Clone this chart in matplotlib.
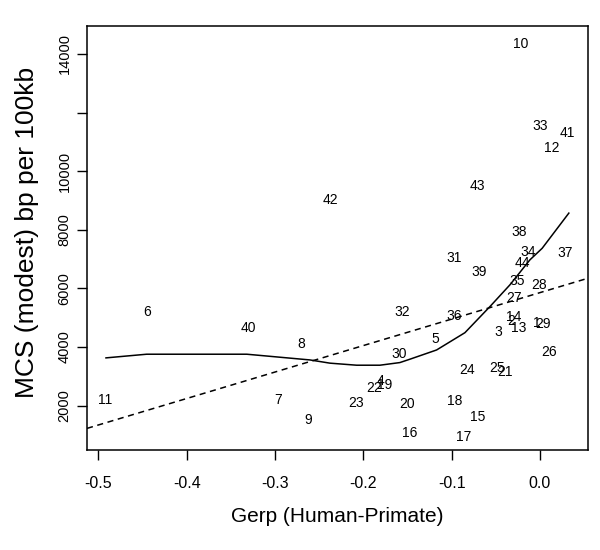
import numpy as np
import matplotlib
matplotlib.use('Agg')
import matplotlib.pyplot as plt

plt.rcParams['font.family'] = ['Liberation Sans', 'DejaVu Sans']

# 数据：每个点的编号与坐标
labels = ['1', '2', '3', '4', '5', '6', '7', '8', '9', '10',
          '11', '12', '13', '14', '15', '16', '17', '18', '19', '20',
          '21', '22', '23', '24', '25', '26', '27', '28', '29', '30',
          '31', '32', '33', '34', '35', '36', '37', '38', '39', '40',
          '41', '42', '43', '44']
gerp = [-0.004, -0.033, -0.047, -0.180, -0.119, -0.445, -0.296, -0.270, -0.263, -0.022,
        -0.492, 0.014, -0.024, -0.030, -0.070, -0.148, -0.086, -0.097, -0.176, -0.150,
        -0.040, -0.188, -0.208, -0.082, -0.048, 0.010, -0.029, -0.001, 0.004, -0.159,
        -0.097, -0.156, 0.000, -0.013, -0.026, -0.097, 0.029, -0.023, -0.069, -0.330,
        0.031, -0.237, -0.071, -0.020]
mcs = [4830, 4900, 4510, 2830, 4290, 5210, 2195, 4110, 1510, 14350,
       2195, 10790, 4660, 5020, 1610, 1070, 920, 2160, 2720, 2060,
       3140, 2590, 2100, 3220, 3300, 3840, 5670, 6120, 4780, 3755,
       7030, 5210, 11550, 7240, 6260, 5070, 7200, 7940, 6575, 4660,
       11300, 9020, 9510, 6860]

# lowess 平滑曲线
lowess_x = [-0.4915, -0.4454, -0.332, -0.2605, -0.2378, -0.2076, -0.1812, -0.1586,
            -0.1472, -0.117, -0.0849, -0.0566, -0.034, -0.0113, 0.0026, 0.0328]
lowess_y = [3630, 3755, 3755, 3560, 3450, 3380, 3380, 3470,
            3585, 3900, 4490, 5380, 6120, 6975, 7370, 8570]

# 线性回归（虚线）
reg_intercept = 5856
reg_slope = 9029

xticks = [-0.5, -0.4, -0.3, -0.2, -0.1, 0.0]
xticklabels = ['-0.5', '-0.4', '-0.3', '-0.2', '-0.1', '0.0']
yticks = [2000, 4000, 6000, 8000, 10000, 12000, 14000]
yticklabels = ['2000', '4000', '6000', '8000', '10000', '', '14000']

fig = plt.figure(figsize=(6, 5.5), dpi=100)
ax = fig.add_axes([0.145, 0.182, 0.835, 0.771])

for lab, x, y in zip(labels, gerp, mcs):
    ax.text(x, y, lab, ha='center', va='center', fontsize=10, color='black')

ax.plot(lowess_x, lowess_y, color='black', linewidth=1.1)
ax.axline((0, reg_intercept), slope=reg_slope, color='black', linewidth=1.1,
          linestyle=(0, (4, 3)))

ax.set_xlim(-0.513, 0.0545)
ax.set_ylim(490, 14960)

ax.set_xticks(xticks)
ax.set_xticklabels(xticklabels, fontsize=11.5)
ax.set_yticks(yticks)
ax.set_yticklabels(yticklabels, fontsize=10.5, rotation=90, va='center')
ax.tick_params(direction='out', length=7, width=1)
ax.tick_params(axis='x', pad=12)
ax.tick_params(axis='y', pad=4)

ax.set_xlabel('Gerp (Human-Primate)', fontsize=15, labelpad=11)
ax.set_ylabel('MCS (modest) bp per 100kb', fontsize=19)
ax.yaxis.set_label_coords(-0.095, 0.514)

for sp in ax.spines.values():
    sp.set_linewidth(1.1)

plt.savefig('out.png', dpi=100)
plt.close()
